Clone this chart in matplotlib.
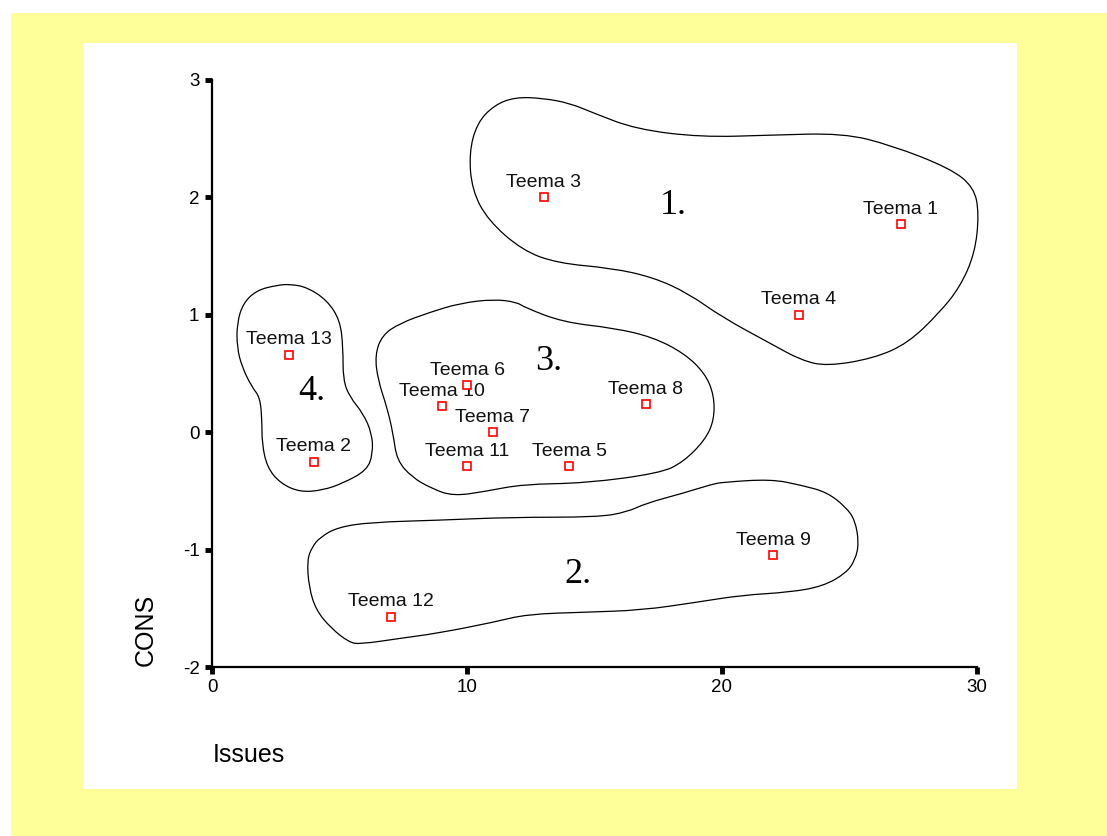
import matplotlib
matplotlib.use("Agg")
import matplotlib.pyplot as plt
from matplotlib.patches import Rectangle, PathPatch
from matplotlib.path import Path

plt.rcParams['font.family'] = ['Liberation Sans', 'DejaVu Sans']
plt.rcParams['axes.unicode_minus'] = False

# themes (Issues, CONS)
labels = ["Teema 1", "Teema 2", "Teema 3", "Teema 4", "Teema 5", "Teema 6", "Teema 7",
          "Teema 8", "Teema 9", "Teema 10", "Teema 11", "Teema 12", "Teema 13"]
issues = [27, 4, 13, 23, 14, 10, 11, 17, 22, 9, 10, 7, 3]
cons = [1.77, -0.25, 2.0, 1.0, -0.29, 0.40, 0.0, 0.24, -1.05, 0.22, -0.29, -1.57, 0.66]

# hand drawn cluster outlines (data coords)
cluster1 = [(11.88, 2.854), (12.98, 2.845), (14.04, 2.802), (14.98, 2.717), (16.63, 2.581),
            (19.18, 2.513), (21.88, 2.530), (24.75, 2.547), (26.63, 2.445), (28.94, 2.249),
            (29.88, 2.087), (30.08, 1.865), (29.92, 1.525), (29.33, 1.235), (28.51, 1.014),
            (27.29, 0.758), (25.96, 0.630), (24.12, 0.562), (23.10, 0.613), (21.88, 0.758),
            (20.00, 0.980), (18.67, 1.184), (17.29, 1.320), (15.69, 1.397), (13.53, 1.440),
            (12.16, 1.550), (10.82, 1.806), (10.20, 2.061), (10.08, 2.376), (10.39, 2.632),
            (11.06, 2.785)]
cluster2 = [(15.10, -0.724), (16.27, -0.681), (17.02, -0.605), (18.47, -0.520), (19.61, -0.443),
            (20.04, -0.426), (21.92, -0.400), (23.10, -0.451), (24.12, -0.511), (24.86, -0.639),
            (25.22, -0.750), (25.37, -0.945), (25.22, -1.090), (24.86, -1.201), (23.96, -1.312),
            (22.67, -1.363), (20.78, -1.388), (19.02, -1.448), (16.86, -1.516), (14.67, -1.533),
            (12.35, -1.550), (11.06, -1.618), (8.86, -1.712), (7.41, -1.755), (5.80, -1.806),
            (5.37, -1.789), (4.67, -1.670), (4.08, -1.516), (3.80, -1.320), (3.73, -1.090),
            (3.92, -0.980), (4.24, -0.894), (4.94, -0.809), (6.24, -0.767), (8.86, -0.750),
            (11.76, -0.724)]
cluster3 = [(9.73, 1.099), (11.06, 1.133), (11.96, 1.107), (12.24, 1.065), (13.76, 0.937),
            (15.80, 0.886), (17.29, 0.809), (18.51, 0.673), (19.33, 0.503), (19.69, 0.315),
            (19.69, 0.102), (19.33, -0.068), (18.47, -0.256), (17.57, -0.349), (14.67, -0.434),
            (12.20, -0.443), (10.75, -0.503), (9.45, -0.545), (8.59, -0.477), (7.84, -0.383),
            (7.25, -0.239), (7.10, -0.009), (6.86, 0.213), (6.51, 0.443), (6.39, 0.656),
            (6.67, 0.826), (7.37, 0.928), (8.55, 1.022)]
cluster4 = [(2.55, 1.252), (1.76, 1.210), (1.22, 1.099), (0.98, 0.928), (0.98, 0.724),
            (1.18, 0.554), (1.57, 0.383), (1.88, 0.298), (1.96, 0.102), (1.96, -0.094),
            (2.16, -0.298), (2.67, -0.434), (3.45, -0.511), (4.35, -0.494), (5.14, -0.434),
            (6.08, -0.324), (6.31, -0.179), (6.27, -0.009), (5.92, 0.162), (5.41, 0.298),
            (5.14, 0.443), (5.14, 0.724), (5.02, 0.954), (4.51, 1.124), (3.73, 1.235),
            (3.06, 1.261)]
cluster_names = ["1.", "2.", "3.", "4."]
cluster_pos = [(18.1, 1.93), (14.35, -1.21), (13.2, 0.60), (3.9, 0.35)]


def smooth_path(pts):
    # closed curve: quadratic bezier through edge midpoints, points as controls
    n = len(pts)
    mid = lambda a, b: ((a[0] + b[0]) / 2, (a[1] + b[1]) / 2)
    verts = [mid(pts[-1], pts[0])]
    codes = [Path.MOVETO]
    for i in range(n):
        verts += [pts[i], mid(pts[i], pts[(i + 1) % n])]
        codes += [Path.CURVE3, Path.CURVE3]
    return Path(verts, codes)


fig = plt.figure(figsize=(11.07, 8.36), dpi=100)
fig.patch.set_facecolor('white')
fig.patches.append(Rectangle((11 / 1107, 0), 1096 / 1107, 823 / 836, transform=fig.transFigure,
                             facecolor='#FFFF99', edgecolor='none', zorder=-10))
fig.patches.append(Rectangle((83 / 1107, 1 - 789 / 836), 934 / 1107, 746 / 836,
                             transform=fig.transFigure, facecolor='white', edgecolor='none', zorder=-9))

ax = fig.add_axes([212 / 1107, 1 - 667 / 836, 765 / 1107, 587 / 836])
ax.set_facecolor('none')

for pts in [cluster1, cluster2, cluster3, cluster4]:
    ax.add_patch(PathPatch(smooth_path(pts), fill=False, edgecolor='black', lw=0.9,
                           clip_on=False))

ax.plot(issues, cons, 's', ms=6, mfc='white', mec='#FF0000', mew=1.2, clip_on=False, zorder=3)
for lab, x, y in zip(labels, issues, cons):
    ax.annotate(lab, (x, y), xytext=(0, 7.5), textcoords='offset points', ha='center',
                va='baseline', fontsize=14, color='#111111', zorder=2)

for name, (x, y) in zip(cluster_names, cluster_pos):
    ax.text(x, y, name, ha='center', va='center', fontsize=26, family='Liberation Serif')

ax.set_xlim(0, 30)
ax.set_ylim(-2, 3)
ax.set_xticks([0, 10, 20, 30])
ax.set_yticks([-2, -1, 0, 1, 2, 3])
for s in ['top', 'right']:
    ax.spines[s].set_visible(False)
for s in ['left', 'bottom']:
    ax.spines[s].set_linewidth(1.6)
ax.tick_params(axis='both', direction='out', length=5, width=3.5, labelsize=13.5, pad=4)

fig.text(146 / 1107, 1 - 630 / 836, "CONS", rotation=90, ha='center', va='center', fontsize=18)
fig.text(213 / 1107, 1 - 755 / 836, "Issues", ha='left', va='center', fontsize=18)

fig.savefig("out.png", dpi=100)
